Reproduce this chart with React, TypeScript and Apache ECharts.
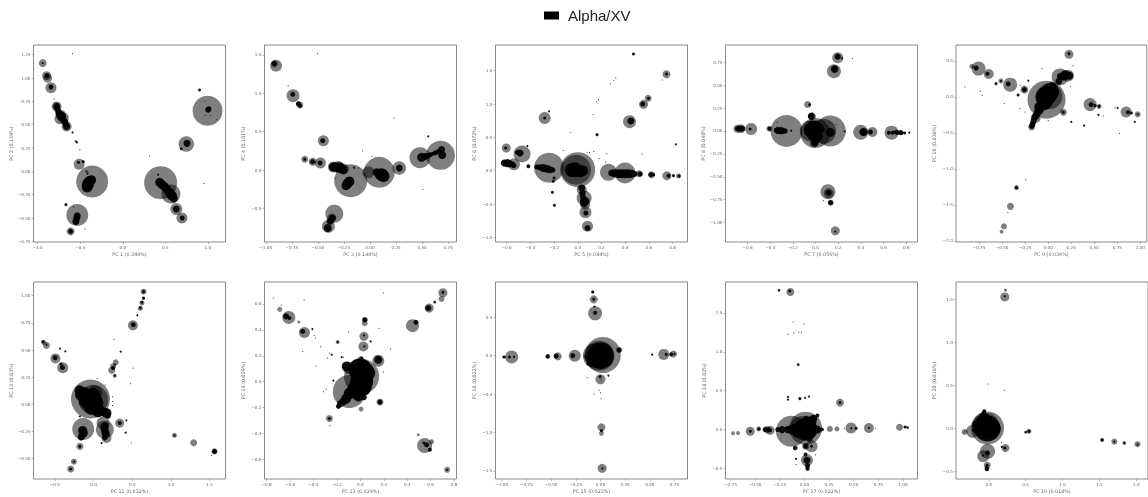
import React, { useEffect, useRef } from "react";
import * as echarts from "echarts";

const seriesName = "Alpha/XV";

// Each row is [x, y, weight]. "Blobs" are the translucent cluster discs, "dots" the solid samples.
const pc1Blobs = [[-.941,1.16,8],[-.895,1.025,9],[-.883,1,9],[-.844,.896,11],[-.777,.696,10],[-.727,.607,10],[-.738,.564,11],[-.699,.571,11],[-.66,.482,10],[-.512,.075,11],[-.359,-.11,32],[-.535,-.468,22],[-.613,-.643,8],[.445,-.121,33],[.566,-.243,19],[.629,-.404,12],[.695,-.5,11],[.746,.293,15.5],[.996,.65,30]];
const pc1Dots = [[-.941,1.161,2],[-.891,1.025,5],[-.844,.904,5],[-.777,.696,7],[-.758,.643,6],[-.727,.596,9],[-.699,.561,6],[-.66,.482,7],[-.77,.67,6],[-.75,.62,7],[-.71,.58,8],[-.68,.53,7],[-.67,.5,6],[-.52,.096,3],[-.465,.104,3],[-.426,0,2],[-.414,-.025,2],[-.395,-.107,10],[-.418,-.168,11],[-.367,-.089,9],[-.41,-.14,12],[-.4,-.12,11],[-.38,-.1,10],[-.535,-.475,7],[-.54,-.5,7],[-.551,-.536,7],[-.613,-.643,5],[.434,-.118,9],[.488,-.161,9],[.551,-.225,9],[.578,-.261,10],[.46,-.14,9],[.515,-.19,9],[.56,-.24,10],[.6,-.29,8],[.629,-.404,7],[.699,-.5,5],[.754,.3,7],[1.012,.671,5],[1.004,.661,6],[-.668,-.357,3],[-.59,.418,2],[-.551,.321,2],[-.539,.311,2],[-.59,1.261,1],[.902,.871,3],[.953,-.129,1],[.316,.164,1],[.688,.243,3],[-.504,.232,1],[-.805,.775,1],[.961,.754,1],[1.105,.554,1],[1.031,.596,1],[-.445,-.618,1],[-.578,-.382,1],[.969,.6,1],[.414,-.036,2]];

const pc3Blobs = [[-.901,1.358,12],[-.917,1.384,7],[-.738,.967,13],[-.674,.846,7],[-.447,.382,11],[-.626,.139,7],[-.55,.108,8],[-.476,.091,11],[-.351,.039,11],[-.304,.039,12],[-.256,.013,11],[-.185,-.139,33],[.089,-.03,31],[-.016,-.03,12],[.281,.026,13.5],[.479,.161,21],[.677,.191,29],[-.342,-.568,18],[-.399,-.733,13],[-.367,-.625,9]];
const pc3Dots = [[-.917,1.384,5],[-.741,.985,5],[-.687,.863,5],[-.671,.837,4],[-.454,.382,5],[-.626,.139,3],[-.55,.108,5],[-.479,.091,5],[-.351,.039,9],[-.294,.035,10],[-.256,.004,9],[-.33,.04,9],[-.31,.03,9],[-.275,.02,9],[-.198,-.148,10],[-.23,-.204,9],[-.215,-.175,10],[.112,-.061,13],[.064,-.03,8],[.09,-.05,10],[.13,-.08,12],[.281,.026,7],[.495,.165,9],[.559,.187,5],[.607,.213,4],[.53,.175,7],[.58,.2,5],[.63,.225,5],[.66,.245,5],[.687,.265,7],[.693,.195,8],[-.361,-.625,7],[-.383,-.668,7],[-.406,-.755,8],[-.502,1.514,1],[-.786,1.098,1],[.23,.677,1],[.559,.438,2],[-.07,.247,1],[.019,.178,1],[.508,-.252,1],[-.153,.03,2],[-.109,.026,1],[-.335,-.104,1]];

const pc5Blobs = [[-.603,.34,9],[-.47,.25,17],[-.538,.095,12],[-.6,.115,8],[-.242,.045,30],[0,.015,35],[-.014,.015,30],[.259,-.025,17],[.399,-.035,21],[.518,-.045,7],[.623,-.06,7],[.752,-.075,9],[.851,-.08,5],[-.279,.79,12],[.437,.735,13],[.555,.995,9],[.594,1.085,7],[.749,1.445,8],[.034,-.285,10],[.054,-.41,15],[.062,-.51,10],[.065,-.625,12],[.082,-.835,11]];
const pc5Dots = [[-.608,.34,3],[-.487,.265,7],[-.51,.275,5],[-.62,.115,7],[-.572,.105,7],[-.59,.11,8],[-.55,.09,6],[-.538,.075,5],[-.417,.065,4],[-.346,.055,5],[-.32,.05,6],[-.29,.04,8],[-.26,.03,8],[-.234,.015,7],[-.21,.01,5],[-.023,.015,15],[-.05,.01,14],[.04,0,11],[.02,-.01,12],[.287,-.035,7],[.31,-.04,8],[.344,-.045,9],[.37,-.045,9],[.399,-.045,9],[.43,-.045,9],[.456,-.045,8],[.48,-.05,6],[.527,-.05,5],[.617,-.06,5],[.64,-.06,3],[.766,-.075,4],[.808,-.075,3],[.854,-.08,3],[-.279,.79,3],[.448,.745,7],[.549,1,5],[.597,1.085,3],[.749,1.45,3],[.034,-.26,7],[.04,-.33,6],[.042,-.385,6],[.05,-.44,7],[.06,-.46,9],[.054,-.485,8],[.068,-.635,5],[.082,-.86,6],[-.2,-.11,3],[-.206,-.16,3],[-.214,-.325,3],[-.197,-.52,3],[.163,.54,3],[.47,1.75,3],[.276,1.3,1],[.304,1.355,1],[.321,1.39,1],[.713,1.36,1],[.161,1.035,1],[.175,1.065,1],[.13,.84,1],[-.242,.89,2],[-.059,.575,1],[-.425,.37,2],[-.124,.305,1],[.099,.275,1],[.079,.275,1],[.135,.29,1],[.245,.255,1],[.18,.18,1],[.234,.13,1],[.544,.25,1],[.828,.395,2]];

const pc7Blobs = [[-.69,.025,8],[-.66,.025,9],[-.569,.022,12],[-.407,.025,6],[-.257,0,32],[-.071,.29,7],[-.032,.16,8],[-.047,0,21],[-.003,-.022,30],[.071,-.004,25],[.13,0,31],[-.012,-.13,9],[.398,-.014,15],[.501,-.011,10],[.67,-.018,14],[.174,-1.09,9],[.109,-.663,15],[.115,-.681,10],[.133,-.783,6],[.162,.652,14],[.168,.674,8],[.195,.8,11]];
const pc7Dots = [[-.69,.025,5],[-.67,.025,6],[-.649,.025,6],[-.578,.022,3],[-.407,.025,4],[-.342,.007,6],[-.33,.005,7],[-.304,.004,7],[-.285,.002,6],[-.268,0,5],[-.215,.004,2],[-.053,.286,3],[-.038,.16,7],[-.047,.014,13],[-.003,.014,14],[.012,-.058,11],[-.009,-.13,7],[-.02,-.03,14],[0,.06,10],[0,-.09,9],[-.03,.05,12],[.02,.03,11],[-.05,0,12],[.13,-.014,9],[.05,.014,7],[.416,-.011,7],[.425,-.011,8],[.484,-.011,5],[.257,-.004,2],[.646,-.018,4],[.68,-.018,4],[.705,-.014,4],[.72,-.016,5],[.749,-.018,5],[.76,-.018,4],[.785,-.022,3],[.174,-1.098,2],[.115,-.674,6],[.133,-.783,5],[.168,.678,7],[.195,.812,6],[.233,.793,2],[.324,.79,1],[.826,-.018,2],[.071,-.761,1],[-.339,.094,1],[.13,.087,1],[.18,.069,1]];

const pc9Blobs = [[.226,.593,9],[.129,.278,17],[.215,.296,12],[-.018,-.037,38],[.014,.009,26],[-.1,-.176,10],[-.136,-.292,10],[-.179,-.417,7],[.165,-.213,7],[.455,-.106,13],[.552,-.13,5],[.846,-.208,11],[.971,-.241,6],[-.756,.394,14],[-.828,.426,5],[-.645,.319,10],[-.513,.222,5],[-.412,.171,14],[-.258,.102,8],[-.344,-1.259,5],[-.409,-1.519,7],[-.48,-1.796,6],[-.505,-1.87,4]];
const pc9Dots = [[.226,.602,3],[.133,.287,7],[.186,.31,9],[.229,.296,8],[.115,.218,7],[.17,.29,9],[.007,.032,17],[-.029,-.06,15],[.061,.056,8],[-.03,0,20],[.02,.07,18],[-.06,-.05,12],[-.04,-.1,12],[-.09,-.16,9],[.04,.12,12],[-.11,-.21,8],[-.13,-.25,7],[-.15,-.3,6],[-.16,-.34,6],[-.17,-.38,6],[-.1,-.13,9],[-.136,-.269,7],[-.179,-.407,5],[-.065,.032,10],[.165,-.213,3],[.466,-.106,5],[.509,-.12,3],[.552,-.13,3],[.867,-.213,4],[.903,-.222,3],[.971,-.241,2],[-.781,.403,5],[-.817,.426,1],[-.659,.324,4],[-.513,.222,2],[-.434,.181,5],[-.258,.102,5],[-.566,.185,3],[-.326,.028,3],[-.344,-1.259,3],[-.068,.394,1],[-.903,.139,1],[-.738,.079,1],[-.717,.023,1],[-.477,-.088,1],[-.308,-.162,1],[-.25,-.208,1],[-.215,.227,2],[-.305,.162,1],[.244,.148,1],[.269,.435,1],[.251,-.347,2],[.391,-.398,2],[.545,-.25,2],[.599,-.264,1],[.724,-.148,1],[.753,-.153,2],[.774,-.505,1],[.939,-.347,2],[-.244,-1.148,1],[-.437,-1.606,1],[0,-.329,1]];

const pc11Blobs = [[-.646,.571,5],[-.608,.543,7],[-.492,.423,10],[-.398,.337,11],[.646,1.037,6],[.646,.975,3],[.625,.933,5],[.604,.883,5],[.509,.727,10],[.287,.387,6],[.253,.35,6],[.235,.313,7],[.274,.264,4],[-.039,.049,39],[-.004,.043,30],[.017,.104,15],[-.133,-.227,22],[.146,-.233,18],[.167,-.31,10],[.124,-.172,13],[-.176,-.387,7],[-.253,-.528,6],[-.295,-.595,7],[.338,-.172,9],[1.045,-.285,5],[1.293,-.353,7],[1.562,-.433,6]];
const pc11Dots = [[-.651,.577,3],[-.608,.549,2],[-.496,.429,5],[-.42,.371,3],[-.402,.34,5],[-.364,.488,2],[-.432,.512,2],[.646,1.037,3],[.646,.978,3],[.625,.939,3],[.604,.89,3],[.565,.82,2],[.513,.733,5],[.253,.334,4],[.274,.365,2],[.274,.264,2],[-.154,.089,13],[-.047,.012,17],[.017,.012,17],[-.068,.074,10],[-.18,.13,10],[-.13,.1,13],[-.1,.08,14],[-.1,.03,14],[-.05,.08,13],[0,.09,13],[.02,.05,13],[-.03,-.03,14],[.03,-.04,11],[.09,-.05,9],[.13,-.07,9],[.19,-.1,5],[.06,-.064,12],[.167,-.08,10],[.188,-.11,5],[-.133,-.264,9],[-.14,-.24,9],[-.16,-.3,7],[-.154,-.294,7],[.146,-.202,8],[.14,-.22,8],[.15,-.25,8],[.158,-.27,8],[.146,-.31,5],[-.176,-.387,3],[-.253,-.528,2],[-.295,-.595,3],[.338,-.172,4],[1.045,-.285,2],[1.562,-.433,5],[.265,.598,1],[.351,.485,2],[.047,.239,1],[.509,.334,1],[.479,.19,1],[.15,.178,1],[.244,.07,1],[.244,.028,1],[.244,-.012,1],[.424,-.147,2],[.415,-.261,2],[.488,-.353,1],[-.176,-.11,2],[.103,-.356,2],[1.524,-.469,1]];

const pc13Blobs = [[-.687,.558,5],[-.61,.496,13],[-.525,.46,3],[-.477,.38,11],[-.193,.306,4],[.037,.452,6],[.043,.478,5],[.031,.35,9],[.026,.272,10],[.003,.175,6],[.153,.162,12],[-.099,.105,12],[-.094,-.075,33],[.011,.041,35],[.006,-.023,22],[-.264,-.283,7],[.006,-.211,5],[.167,-.157,7],[.445,.432,13],[.587,.568,9],[.633,.614,3],[.692,.638,6],[.704,.686,9],[.74,-.679,6],[.548,-.491,15],[.607,-.463,5],[.494,-.409,3]];
const pc13Dots = [[-.633,.504,6],[-.605,.491,4],[-.491,.388,5],[-.193,.306,2],[.037,.478,5],[.031,.357,2],[.034,.272,2],[-.116,.118,10],[-.074,.1,6],[.153,.17,8],[-.003,.093,23],[.054,.067,17],[.011,-.036,20],[-.06,-.075,13],[-.145,-.152,8],[-.187,-.19,5],[-.17,-.17,7],[-.12,-.13,10],[-.09,-.09,12],[-.05,-.05,14],[-.02,0,16],[0,.05,18],[.03,.1,16],[.03,.02,18],[.05,0,14],[.03,-.06,12],[.03,-.12,6],[-.03,-.1,10],[.08,.09,8],[-.017,-.113,10],[.068,.105,9],[.011,.183,3],[.167,-.157,5],[.474,.458,5],[.579,.568,6],[.636,.614,2],[.704,.689,3],[.74,-.679,2],[-.264,-.283,3],[.565,-.486,5],[.593,-.524,4],[.542,-.473,3],[-.743,.645,1],[.196,.684,1],[-.479,.632,1],[-.675,.591,1],[.258,.252,1],[.159,.411,1],[-.102,.383,1],[-.409,.406,2],[-.394,.357,1],[-.383,.337,1],[-.338,.27,1],[-.491,.234,1],[-.377,.121,1],[-.264,.221,1],[-.244,.208,2],[-.281,.183,1],[-.159,.19,2],[-.145,.19,1],[-.23,.008,2],[-.315,-.077,1],[-.292,-.057,1],[-.258,-.339,1],[.196,.075,1],[.088,.311,2]];

const pc15Blobs = [[-.078,.829,3],[-.068,.733,8],[-.054,.551,14],[-.899,-.017,13],[-.983,-.017,3],[-.534,-.009,5],[-.432,-.009,8],[-.26,0,12],[.024,.009,36],[-.01,0,30],[.007,0,24],[-.051,0,25],[-.145,-.013,5],[.189,.074,6],[0,-.308,10],[.01,-.933,8],[.01,-1.011,5],[.017,-1.466,9],[.642,.017,11],[.74,.022,7]];
const pc15Dots = [[-.078,.829,3],[-.068,.733,3],[-.061,.638,2],[-.054,.56,4],[-.973,-.017,3],[-.922,-.017,3],[-.875,-.017,2],[-.534,-.009,4],[-.449,-.004,5],[-.28,0,5],[-.01,0,23],[0,0,27],[-.044,.052,13],[.041,-.035,13],[-.06,-.04,12],[-.095,-.078,8],[-.1,-.09,7],[-.128,-.108,3],[.189,.074,5],[-.003,-.273,3],[.007,-.317,1],[.01,-.976,3],[.02,-1.466,2],[.666,.017,3],[.716,.017,4],[.75,.022,2],[.524,.013,2],[-.135,-.286,1],[.081,-.26,2],[-.014,-.451,1],[0,-.482,1],[-.064,-.499,1],[.007,-.56,1]];

const pc17Blobs = [[-.142,1.769,8],[-.258,1.79,3],[-.063,.835,3],[.361,.347,8],[-.723,-.047,4],[-.672,-.043,4],[-.549,-.021,9],[-.463,.009,5],[-.347,-.009,9],[-.381,0,7],[-.132,-.021,31],[.012,.017,33],[-.022,.021,24],[.073,-.214,12],[-.091,-.236,5],[.012,-.214,7],[.026,-.394,12],[.032,-.48,5],[.258,.009,6],[.33,.009,5],[.473,.021,11],[.654,.021,10],[.965,.03,7],[1.037,.03,3]];
const pc17Dots = [[-.149,1.782,3],[-.258,1.79,2],[-.063,.835,2],[.361,.347,3],[-.549,-.021,3],[-.463,.009,3],[-.398,0,5],[-.36,-.004,5],[-.347,-.009,4],[-.27,0,5],[-.227,0,7],[-.17,0,7],[-.125,0,10],[-.1,0,10],[-.05,0,15],[-.022,0,17],[0,.02,20],[.03,0,20],[.029,.064,14],[.06,.09,12],[.09,.14,8],[.02,.14,6],[.063,-.043,11],[-.073,-.021,12],[0,-.08,10],[.05,-.11,7],[.11,0,8],[.132,0,8],[.17,0,4],[.183,0,3],[.132,.18,4],[-.096,-.236,4],[.012,-.214,5],[.073,-.214,3],[.012,-.321,4],[.026,-.394,7],[.032,-.463,5],[.032,-.505,4],[.476,.017,2],[.525,.017,3],[.654,.021,2],[1.02,.034,3],[1.05,.026,2],[-.046,.398,3],[.005,.407,2],[-.166,.42,2],[-.166,.386,2],[-.114,1.383,1],[-.005,1.358,1],[-.108,1.242,1],[-.169,1.225,1],[-.056,1.251,1],[-.029,1.246,1],[.046,.424,2],[.111,-.325,1],[-.084,-.45,1],[-.084,-.377,2],[.405,.017,1],[.723,.017,1]];

const pc19Blobs = [[.225,1.602,3],[.216,1.525,9],[-.328,-.039,6],[-.22,-.031,13],[-.018,.008,33],[-.04,.027,27],[-.063,.046,20],[-.018,-.263,15],[-.076,-.32,12],[.225,-.224,8],[-.022,-.425,7],[-.027,-.467,5],[.5,-.042,3],[.544,-.031,5],[1.537,-.131,4],[1.703,-.151,6],[1.838,-.166,4],[2.018,-.181,6]];
const pc19Dots = [[-.018,.027,20],[-.02,0,26],[-.06,.08,16],[-.1,.02,16],[-.15,0,8],[-.2,-.02,4],[-.07,.15,8],[.04,0,18],[-.13,-.012,12],[-.063,.143,8],[-.063,.201,4],[.027,-.012,13],[-.175,.046,8],[-.018,-.282,5],[.216,-.224,3],[-.022,-.425,3],[-.027,-.467,4],[-.027,-.44,3],[.5,-.042,2],[.544,-.031,3],[1.537,-.131,3],[1.703,-.151,2],[1.838,-.166,2],[2.018,-.185,2],[.216,1.533,2],[.225,1.61,1],[-.328,-.039,1],[-.076,-.313,2],[.175,-.212,2],[-.009,.517,1],[.216,.444,1],[.171,-.158,1]];

const xNames = ["PC 1 (0.349%)", "PC 3 (0.148%)", "PC 5 (0.084%)", "PC 7 (0.056%)", "PC 9 (0.039%)", "PC 11 (0.032%)", "PC 13 (0.029%)", "PC 15 (0.023%)", "PC 17 (0.022%)", "PC 19 (0.018%)"];
const yNames = ["PC 2 (0.159%)", "PC 4 (0.101%)", "PC 6 (0.072%)", "PC 8 (0.048%)", "PC 10 (0.036%)", "PC 12 (0.03%)", "PC 14 (0.029%)", "PC 16 (0.022%)", "PC 18 (0.02%)", "PC 20 (0.016%)"];

const x1 = [-1, -.5, 0, .5, 1];
const y1 = [-.75, -.5, -.25, 0, .25, .5, .75, 1, 1.25];
const x2 = [-1, -.75, -.5, -.25, 0, .25, .5, .75];
const y2 = [-.5, 0, .5, 1, 1.5];
const x3 = [-.6, -.4, -.2, 0, .2, .4, .6, .8];
const y3 = [-1, -.5, 0, .5, 1, 1.5];
const x4 = [-.6, -.4, -.2, 0, .2, .4, .6, .8];
const y4 = [-1, -.75, -.5, -.25, 0, .25, .5, .75];
const x5 = [-.75, -.5, -.25, 0, .25, .5, .75, 1];
const y5 = [-2, -1.5, -1, -.5, 0, .5];
const x6 = [-.5, 0, .5, 1, 1.5];
const y6 = [-.5, -.25, 0, .25, .5, .75, 1];
const x7 = [-.8, -.6, -.4, -.2, 0, .2, .4, .6, .8];
const y7 = [-.6, -.4, -.2, 0, .2, .4, .6];
const x8 = [-1, -.75, -.5, -.25, 0, .25, .5, .75];
const y8 = [-1.5, -1, -.5, 0, .5];
const x9 = [-.75, -.5, -.25, 0, .25, .5, .75, 1];
const y9 = [-.5, 0, .5, 1, 1.5];
const x10 = [0, .5, 1, 1.5, 2];
const y10 = [-.5, 0, .5, 1, 1.5];

const panels = [
  { blobs: pc1Blobs, dots: pc1Dots, xt: x1, yt: y1, xd: 1, yd: 2, xr: [-1.049, 1.207], yr: [-.757, 1.354] },
  { blobs: pc3Blobs, dots: pc3Dots, xt: x2, yt: y2, xd: 2, yd: 1, xr: [-1.012, .83], yr: [-.937, 1.627] },
  { blobs: pc5Blobs, dots: pc5Dots, xt: x3, yt: y3, xd: 1, yd: 1, xr: [-.694, .926], yr: [-1.07, 1.885] },
  { blobs: pc7Blobs, dots: pc7Dots, xt: x4, yt: y4, xd: 1, yd: 2, xr: [-.795, .899], yr: [-1.212, .939] },
  { blobs: pc9Blobs, dots: pc9Dots, xt: x5, yt: y5, xd: 2, yd: 1, xr: [-1, 1.07], yr: [-2.014, .722] },
  { blobs: pc11Blobs, dots: pc11Dots, xt: x6, yt: y6, xd: 1, yd: 2, xr: [-.775, 1.704], yr: [-.687, 1.126] },
  { blobs: pc13Blobs, dots: pc13Dots, xt: x7, yt: y7, xd: 1, yd: 1, xr: [-.817, .82], yr: [-.75, .769] },
  { blobs: pc15Blobs, dots: pc15Dots, xt: x8, yt: y8, xd: 2, yd: 1, xr: [-1.063, .882], yr: [-1.605, .959] },
  { blobs: pc17Blobs, dots: pc17Dots, xt: x9, yt: y9, xd: 2, yd: 1, xr: [-.8, 1.147], yr: [-.635, 1.897] },
  { blobs: pc19Blobs, dots: pc19Dots, xt: x10, yt: y10, xd: 1, yd: 1, xr: [-.446, 2.16], yr: [-.584, 1.698] },
];

const lefts = [33.5, 264.5, 495.5, 725.5, 956];
const tops = [45, 282];
const textColor = "#666";
const lineColor = "#8a8a8a";
const tickFont = "DejaVu Sans";

function fmt(v: number, d: number) {
  return v.toFixed(d).replace("-", "\u2212");
}

export default function App() {
  const ref = useRef<HTMLDivElement>(null);
  useEffect(() => {
    document.body.style.margin = "0";
    const chart = echarts.init(ref.current!, undefined, { renderer: "svg" });
    const grid: any[] = [], xAxis: any[] = [], yAxis: any[] = [], series: any[] = [];
    panels.forEach((p, i) => {
      grid.push({
        left: lefts[i % 5], top: tops[Math.floor(i / 5)], width: 192, height: 197,
        show: true, borderColor: lineColor, borderWidth: 1, backgroundColor: "#fff",
      });
      const base = {
        type: "value", gridIndex: i, nameLocation: "middle",
        nameTextStyle: { color: textColor, fontSize: 4.8, fontFamily: tickFont },
        splitLine: { show: false }, axisLine: { show: false, onZero: false },
      };
      const lab = (vals: number[], d: number) => ({
        customValues: vals, color: textColor, fontSize: 4.2, fontFamily: tickFont, margin: 3,
        hideOverlap: false, formatter: (v: number) => fmt(v, d),
      });
      const tick = (vals: number[]) => ({ show: true, customValues: vals, length: 2, lineStyle: { color: lineColor, width: 0.6 } });
      xAxis.push({ ...base, name: xNames[i], nameGap: 10, min: p.xr[0], max: p.xr[1], axisLabel: lab(p.xt, p.xd), axisTick: tick(p.xt) });
      yAxis.push({ ...base, name: yNames[i], nameGap: 19, nameRotate: 90, min: p.yr[0], max: p.yr[1], axisLabel: lab(p.yt, p.yd), axisTick: tick(p.yt) });
      const common = { name: seriesName, type: "scatter", xAxisIndex: i, yAxisIndex: i, symbol: "circle", symbolSize: (d: number[]) => d[2], clip: true, silent: true };
      series.push({ ...common, data: p.blobs, z: 2, itemStyle: { color: "#000", opacity: 0.5 } });
      series.push({ ...common, data: p.dots, z: 3, itemStyle: { color: "#000", opacity: 0.92 } });
    });
    chart.setOption({
      animation: false,
      backgroundColor: "#fff",
      legend: {
        left: 539, top: 3, itemWidth: 15, itemHeight: 8, itemGap: 0, icon: "rect", selectedMode: false,
        data: [{ name: seriesName, itemStyle: { color: "#000", opacity: 1 } }],
        textStyle: { color: "#222", fontSize: 15, fontFamily: "Liberation Sans", padding: [0, 0, 0, 4] },
      },
      grid, xAxis, yAxis, series,
    });
    return () => chart.dispose();
  }, []);
  return <div ref={ref} style={{ width: 1148, height: 497, filter: "blur(0.45px)" }} />;
}
